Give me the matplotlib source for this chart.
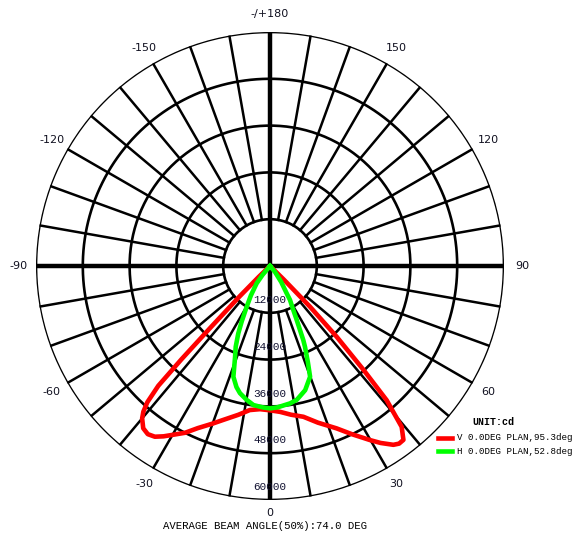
import numpy as np
import matplotlib
matplotlib.use("Agg")
import matplotlib.pyplot as plt
from matplotlib.lines import Line2D

# ring values (cd) and angle labels
rings = [12000, 24000, 36000, 48000, 60000]
ring_labels = ["12000", "24000", "36000", "48000", "60000"]
angle_ticks = [0, 30, 60, 90, 120, 150, 180, 210, 240, 270, 300, 330]
angle_labels = ["0", "30", "60", "90", "120", "150", "-/+180", "-150", "-120", "-90", "-60", "-30"]

# V 0.0DEG plane (red), angle in deg, intensity in cd
v_ang = [-90, -50, -46, -45, -44, -43.5, -43, -42, -41, -40, -38, -36, -34, -32, -30,
         -27, -24, -20, -17, -12, -8, -4, 0, 4, 8, 12.5, 17, 22.3, 26, 29.9, 32,
         34.6, 36, 37.5, 39.3, 41, 42, 43.3, 44.5, 45.5, 47, 50, 90]
v_cd = [0, 0, 4000, 11000, 22000, 33000, 42000, 47000, 49500, 51000, 52800, 53300, 52800, 51500, 50000,
        48000, 45500, 43000, 41300, 39000, 37300, 36800, 37000, 37500, 38500, 39600, 42000, 45000, 48000, 51500, 53500,
        55700, 56300, 56200, 53300, 45600, 35800, 24900, 14600, 5000, 0, 0, 0]

# H 0.0DEG plane (green)
h_ang = [-90, -45, -40, -37.6, -33, -29.8, -27, -25.2, -23, -21, -18.3, -15.5, -13.3, -10, -6.8, -3,
         0, 3, 8.3, 11.3, 15.8, 19.9, 21.5, 23.4, 24.2, 26.3, 28.5, 30.5, 31.4, 35, 40, 45, 90]
h_cd = [0, 0, 3000, 5600, 9000, 12000, 16000, 19100, 22500, 25000, 29900, 32200, 33500, 34800, 35900, 36300,
        36500, 36300, 35600, 35000, 33100, 30200, 26500, 22600, 20800, 15500, 12000, 10100, 8200, 5000, 2000, 0, 0]

W, H = 586, 538
fig = plt.figure(figsize=(W / 100, H / 100), dpi=100)
cx, cy, R = 270, 266, 234
ax = fig.add_axes([(cx - R) / W, (H - cy - R) / H, 2 * R / W, 2 * R / H], projection="polar")
ax.set_theta_zero_location("S")
ax.set_theta_direction(1)
ax.set_ylim(0, 60000)
ax.set_axis_off()

mono = "Liberation Mono"

# grid
t = np.linspace(0, 2 * np.pi, 400)
for r in rings:
    ax.plot(t, np.full_like(t, r), color="black", lw=1.9, zorder=1)
for a in range(0, 360, 10):
    if a % 90 == 0:
        continue
    ax.plot([np.radians(a)] * 2, [12000, 60000], color="black", lw=1.8, zorder=1)
for a in [0, 90, 180, 270]:
    ax.plot([np.radians(a)] * 2, [0, 60000], color="black", lw=3.2, zorder=1)

# curves
ax.plot(np.radians(v_ang), v_cd, color="#ff0000", lw=3.3, zorder=3, solid_joinstyle="round")
ax.plot(np.radians(h_ang), h_cd, color="#00ff00", lw=3.3, zorder=4, solid_joinstyle="round")

# labels
for a, lab in zip(angle_ticks, angle_labels):
    rr = 63300 if a == 0 else 64600
    ax.text(np.radians(a), rr, lab, ha="center", va="center", fontsize=8,
            color="#101020", clip_on=False)
for r, lab in zip(rings, ring_labels):
    ax.text(0, r - 3300, lab, ha="center", va="center", fontsize=7.9,
            family=mono, color="#101030", zorder=5)

fig.text(472 / W, 1 - 422 / H, "UNIT:cd", family=mono, fontsize=7.2,
         fontweight="bold", ha="left", va="center")
fig.add_artist(Line2D([438 / W, 452 / W], [1 - 438 / H] * 2, color="#ff0000", lw=3.3))
fig.add_artist(Line2D([438 / W, 452 / W], [1 - 451 / H] * 2, color="#00ff00", lw=3.3))
fig.text(457 / W, 1 - 438 / H, "V 0.0DEG PLAN,95.3deg", family=mono, fontsize=6.6,
         ha="left", va="center")
fig.text(457 / W, 1 - 451 / H, "H 0.0DEG PLAN,52.8deg", family=mono, fontsize=6.6,
         ha="left", va="center")
fig.text(163 / W, 1 - 526 / H, "AVERAGE BEAM ANGLE(50%):74.0 DEG", family=mono,
         fontsize=7.7, ha="left", va="center")

fig.savefig("out.png", dpi=100)
